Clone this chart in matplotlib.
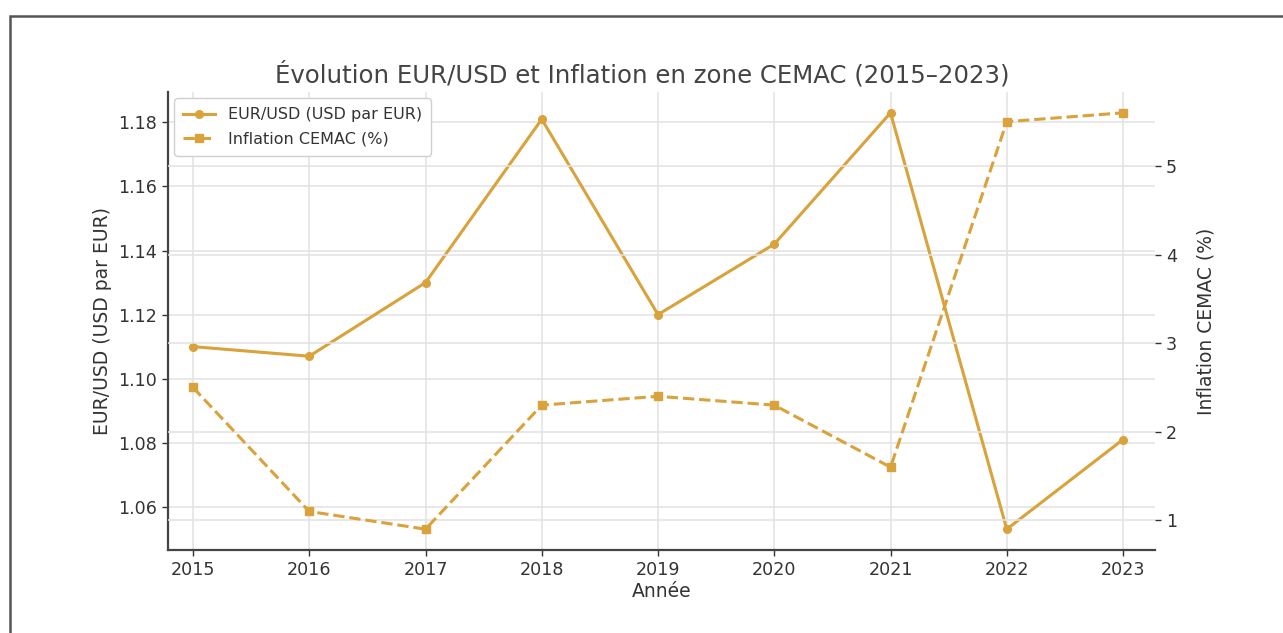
import matplotlib
matplotlib.use("Agg")
import matplotlib.pyplot as plt
from matplotlib.patches import Rectangle

years = [2015, 2016, 2017, 2018, 2019, 2020, 2021, 2022, 2023]
eurusd = [1.110, 1.107, 1.130, 1.181, 1.120, 1.142, 1.183, 1.053, 1.081]
inflation = [2.5, 1.1, 0.9, 2.3, 2.4, 2.3, 1.6, 5.5, 5.6]

color = "#D9A23A"
txt = "#333333"

fig = plt.figure(figsize=(12.83, 6.33), dpi=100)
ax = fig.add_axes([168/1283, 1-550/633, (1155-168)/1283, (550-92)/633])
ax2 = ax.twinx()

ax.plot(years, eurusd, color=color, lw=2.2, marker="o", ms=5.5, label="EUR/USD (USD par EUR)")
ax2.plot(years, inflation, color=color, lw=2.2, ls="--", marker="s", ms=5.5, label="Inflation CEMAC (%)")

for a in (ax, ax2):
    a.grid(True, color="#e2e2e2", lw=1.1)
    a.set_axisbelow(True)
    for s in ("top", "right"):
        a.spines[s].set_visible(False)
    a.tick_params(colors=txt, labelsize=12.6, length=4.5, width=1)
ax2.spines["left"].set_visible(False)
ax2.spines["bottom"].set_visible(False)
ax.spines["left"].set_color("#444444")
ax.spines["bottom"].set_color("#444444")
ax.spines["left"].set_linewidth(1.6)
ax.spines["bottom"].set_linewidth(1.6)

ax.set_xticks(years)
ax.set_xlim(2014.785, 2023.275)
yt = [1.06, 1.08, 1.10, 1.12, 1.14, 1.16, 1.18]
ax.set_yticks(yt)
ax.set_yticklabels([f"{v:.2f}" for v in yt])
ax2.set_yticks([1, 2, 3, 4, 5])

ax.set_xlabel("Année", fontsize=13.5, color=txt, labelpad=2)
ax.set_ylabel("EUR/USD (USD par EUR)", fontsize=13.5, color=txt, labelpad=4)
ax2.set_ylabel("Inflation CEMAC (%)", fontsize=13.5, color=txt, labelpad=14)
ax.set_title("Évolution EUR/USD et Inflation en zone CEMAC (2015–2023)", fontsize=17.6,
             color="#444444", pad=7, x=(642-168)/987)

h1, l1 = ax.get_legend_handles_labels()
h2, l2 = ax2.get_legend_handles_labels()
leg = ax.legend(h1 + h2, l1 + l2, loc="upper left", fontsize=11.5, frameon=True, framealpha=1,
                edgecolor="#d0d0d0", borderaxespad=0.4, labelspacing=0.6, borderpad=0.55)
for t in leg.get_texts():
    t.set_color(txt)

fig.add_artist(Rectangle((10/1283, -0.1), 1.2, 1.1 - 16/633, transform=fig.transFigure,
                         fill=False, edgecolor="#555555", lw=1.8))

fig.savefig("out.png", dpi=100)
